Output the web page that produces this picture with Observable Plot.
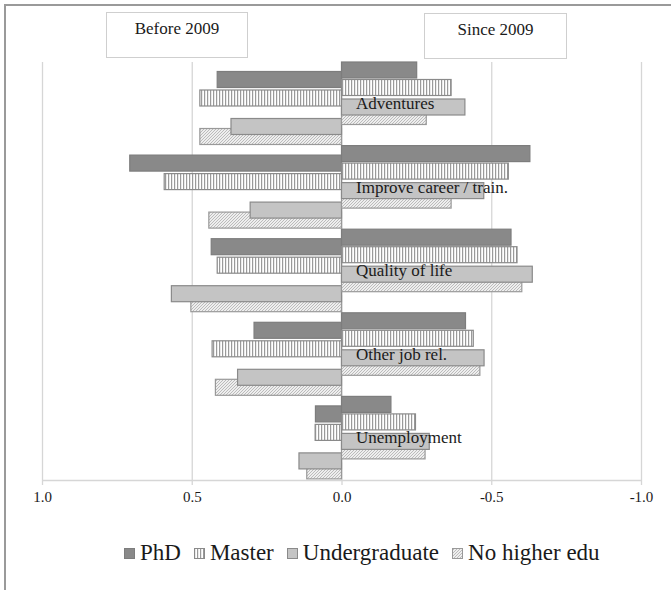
<!DOCTYPE html>
<html>
<head>
<meta charset="utf-8">
<script src="https://cdn.jsdelivr.net/npm/d3@7"></script>
<script src="https://cdn.jsdelivr.net/npm/@observablehq/plot@0.6"></script>
<style>
  html, body { margin: 0; padding: 0; background: #fff; }
  #wrap { position: relative; width: 671px; height: 590px; overflow: hidden; font-family: "Liberation Serif", "Times New Roman", serif; color: #1a1a1a; }
  #frameTop { position: absolute; left: 5px; top: 4px; width: 666px; height: 2px; background: #9a9a9a; }
  #frameLeft { position: absolute; left: 4px; top: 4px; width: 2px; height: 586px; background: #9a9a9a; }
  .hbox { position: absolute; box-sizing: border-box; border: 1.5px solid #cfcfcf; background: #fff; text-align: center; font-size: 17px; padding-top: 6px; z-index: 2; }
  #plot { position: absolute; left: 0; top: 0; }
  #legend { position: absolute; left: 124px; top: 540px; display: flex; align-items: center; font-size: 23px; white-space: nowrap; }
  .li { display: flex; align-items: center; margin-right: 13px; }
  .li svg { margin-right: 5px; }
</style>
</head>
<body>
<svg width="0" height="0" style="position:absolute">
  <defs>
    <pattern id="pMaster" patternUnits="userSpaceOnUse" width="3" height="3">
      <rect width="3" height="3" fill="#ffffff"></rect>
      <rect x="0" width="1.2" height="3" fill="#9a9a9a"></rect>
    </pattern>
    <pattern id="pNoHigher" patternUnits="userSpaceOnUse" width="3" height="3">
      <rect width="3" height="3" fill="#eeeeee"></rect>
      <path d="M-1,1 L1,-1 M0,3 L3,0 M2,4 L4,2" stroke="#b5b5b5" stroke-width="0.9"></path>
    </pattern>
  </defs>
</svg>
<div id="wrap">
  <div id="frameTop"></div>
  <div id="frameLeft"></div>
  <div id="plot"></div>
  <div class="hbox" style="left:106px; top:12px; width:142px; height:46px;">Before 2009</div>
  <div class="hbox" style="left:424px; top:13px; width:143px; height:46px;">Since 2009</div>
  <div id="legend"></div>
</div>
<script>
// ---- data ----
const categories = ["Adventures", "Improve career / train.", "Quality of life", "Other job rel.", "Unemployment"];
const seriesNames = ["PhD", "Master", "Undergraduate", "No higher edu"];
const xTicks = [1.0, 0.5, 0.0, -0.5, -1.0];

// Before 2009 (plotted to the left, positive values)
const beforePhD = [0.415, 0.707, 0.435, 0.292, 0.087];
const beforeMaster = [0.473, 0.592, 0.415, 0.432, 0.088];
const beforeUndergrad = [0.369, 0.305, 0.568, 0.347, 0.142];
const beforeNoHigher = [0.473, 0.443, 0.503, 0.421, 0.116];

// Since 2009 (plotted to the right, negative values)
const sincePhD = [-0.251, -0.629, -0.566, -0.414, -0.165];
const sinceMaster = [-0.366, -0.557, -0.586, -0.440, -0.247];
const sinceUndergrad = [-0.412, -0.475, -0.637, -0.476, -0.293];
const sinceNoHigher = [-0.283, -0.366, -0.602, -0.462, -0.279];

// ---- styling / layout ----
const fills = {
  "PhD": "#898989",
  "Master": "url(#pMaster)",
  "Undergraduate": "#c4c4c4",
  "No higher edu": "url(#pNoHigher)"
};
const strokes = {
  "PhD": "#7d7d7d",
  "Master": "#8a8a8a",
  "Undergraduate": "#8a8a8a",
  "No higher edu": "#999999"
};
const BAND = 83.6;           // px per category band
const BAR = 16 / BAND;       // bar thickness in band units
const offsets = {            // bar top offsets within band (band units)
  since: {"PhD": 0 / BAND, "Master": 17.5 / BAND, "Undergraduate": 37 / BAND, "No higher edu": 46.5 / BAND},
  before: {"PhD": 9.5 / BAND, "Master": 28 / BAND, "Undergraduate": 56.5 / BAND, "No higher edu": 66.5 / BAND}
};
const drawOrder = ["PhD", "Master", "No higher edu", "Undergraduate"];

const sources = {
  before: {"PhD": beforePhD, "Master": beforeMaster, "Undergraduate": beforeUndergrad, "No higher edu": beforeNoHigher},
  since: {"PhD": sincePhD, "Master": sinceMaster, "Undergraduate": sinceUndergrad, "No higher edu": sinceNoHigher}
};

const rows = [];
for (const side of ["before", "since"]) {
  for (const s of seriesNames) {
    sources[side][s].forEach((v, i) => rows.push({side, series: s, ci: i, value: v}));
  }
}

const barMarks = [];
for (const side of ["before", "since"]) {
  for (const s of drawOrder) {
    barMarks.push(Plot.rect(rows.filter(d => d.side === side && d.series === s), {
      x1: () => 0,
      x2: "value",
      y1: d => d.ci + offsets[side][s],
      y2: d => d.ci + offsets[side][s] + BAR,
      fill: fills[s],
      stroke: strokes[s],
      strokeWidth: 1.2
    }));
  }
}

const fontFamily = '"Liberation Serif", "Times New Roman", serif';

const chart = Plot.plot({
  width: 671,
  height: 520,
  marginTop: 62,
  marginBottom: 40,
  marginLeft: 42,
  marginRight: 30,
  style: {fontFamily, background: "transparent", color: "#1a1a1a", overflow: "visible"},
  x: {domain: [1, -1], axis: null, label: null},
  y: {domain: [0, 5], reverse: true, axis: null, label: null},
  marks: [
    Plot.ruleX(xTicks.filter(t => t !== 0), {stroke: "#d6d6d6", strokeWidth: 1.3}),
    Plot.ruleX([0], {stroke: "#d6d6d6", strokeWidth: 1.2}),
    ...barMarks,
    Plot.ruleY([5], {stroke: "#d6d6d6", strokeWidth: 1.3}),
    Plot.axisX({ticks: xTicks, tickSize: 5, text: null, label: null, stroke: "#d6d6d6", strokeWidth: 1.3}),
    Plot.axisX({ticks: xTicks, tickSize: 0, tickPadding: 11, label: null, tickFormat: d => d.toFixed(1), fontSize: 15, fill: "#1a1a1a"}),
    Plot.text(categories, {
      x: () => 0,
      y: (d, i) => i + 41 / BAND,
      text: d => d,
      textAnchor: "start",
      dx: 14,
      fontSize: 17,
      fill: "#1a1a1a"
    })
  ]
});
document.getElementById("plot").appendChild(chart);

// legend
const legend = document.getElementById("legend");
for (const s of seriesNames) {
  const item = document.createElement("div");
  item.className = "li";
  item.innerHTML = `<svg width="11" height="11"><rect x="0.5" y="0.5" width="10" height="10" fill="${fills[s]}" stroke="${strokes[s]}" stroke-width="1"></rect></svg><span>${s}</span>`;
  legend.appendChild(item);
}
</script>
</body>
</html>
